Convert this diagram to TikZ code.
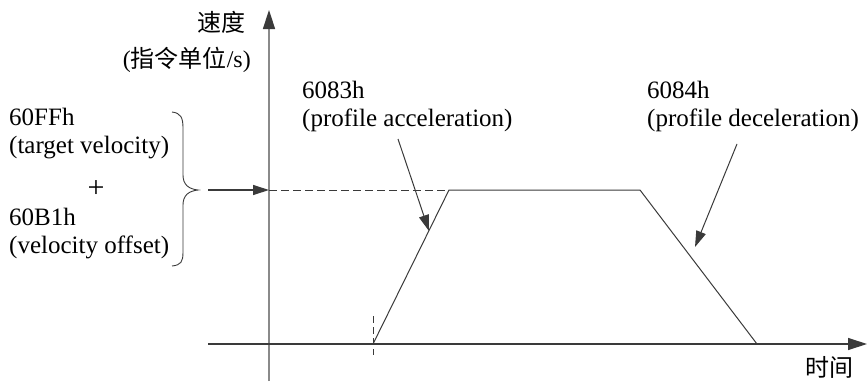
\documentclass[tikz,border=0pt]{standalone}
\usepackage{fontspec}
\setmainfont{Liberation Serif}
\newfontfamily\cjkfont{Noto Sans CJK SC}
\usetikzlibrary{arrows.meta}
\definecolor{ink}{HTML}{3A3A3A}
\definecolor{axisgray}{HTML}{8A8A8A}
\tikzset{
  lbl/.style={inner sep=0pt, anchor=base west, font=\fontsize{25}{30}\selectfont, text=black},
  cjk/.style={inner sep=0pt, font=\fontsize{24}{28}\selectfont, text=black},
  tipbig/.style={-{Triangle[length=19pt,width=12pt,color=ink]}},
  tipsmall/.style={-{Triangle[length=16pt,width=10pt,color=ink]}},
  curve/.style={draw=ink, line width=1pt},
  dashline/.style={draw=ink, line width=1pt, dash pattern=on 8pt off 4pt},
}
\begin{document}
\begin{tikzpicture}[x=1pt,y=-1pt]
\useasboundingbox (0,0) rectangle (867,383);
% coordinates
\coordinate (yb) at (269,381);
\coordinate (yt) at (269,10);
\coordinate (xl) at (208,344);
\coordinate (xr) at (867,344);
\coordinate (in0) at (208,190);
\coordinate (yv) at (269,190);
\coordinate (s0) at (373,344);
\coordinate (s1) at (449,190);
\coordinate (s2) at (640,190);
\coordinate (s3) at (757,344);
\coordinate (mt) at (373,316);
\coordinate (mb) at (373,355);
\coordinate (aa) at (398,139);
\coordinate (ab) at (429,231);
\coordinate (da) at (737,144);
\coordinate (db) at (695,247);
% axes
\draw[tipbig, draw=axisgray, line width=1.5pt] (yb) -- (yt);
\draw[tipbig, draw=ink, line width=1.2pt] (xl) -- (xr);
% velocity profile
\draw[dashline] (yv) -- (s1);
\draw[curve] (s0) -- (s1) -- (s2) -- (s3);
\draw[dashline, dash pattern=on 7pt off 4pt] (mt) -- (mb);
% input arrow
\draw[tipsmall, draw=ink, line width=1.2pt] (in0) -- (yv);
% label arrows
\draw[tipsmall, draw=ink, line width=1pt] (aa) -- (ab);
\draw[tipsmall, draw=ink, line width=1pt] (da) -- (db);
% brace
\draw[draw=ink, line width=0.9pt] (172,112) .. controls (181,113) and (183,118) .. (183,128) -- (183,175) .. controls (183,185) and (189,189) .. (198,190) .. controls (189,191) and (183,195) .. (183,205) -- (183,252) .. controls (183,262) and (181,265) .. (172,266);
% texts
\node[cjk, anchor=east] (vt) at (246,22) {\cjkfont 速度};
\node[cjk, anchor=east] (vu) at (251,60) {(\cjkfont 指令单位\normalfont/s)};
\node[cjk, anchor=center] (tt) at (829,367) {\cjkfont 时间};
\node[lbl] (t1) at (9,125) {60FFh};
\node[lbl] (t2) at (9,153) {(target velocity)};
\node[lbl, anchor=center, font=\fontsize{30}{34}\selectfont] (tp) at (96,189) {+};
\node[lbl] (t3) at (9,225) {60B1h};
\node[lbl] (t4) at (9,253) {(velocity offset)};
\node[lbl] (a1) at (302,98) {6083h};
\node[lbl] (a2) at (302,126) {(profile acceleration)};
\node[lbl] (d1) at (647,98) {6084h};
\node[lbl] (d2) at (647,126) {(profile deceleration)};
\end{tikzpicture}
\end{document}
